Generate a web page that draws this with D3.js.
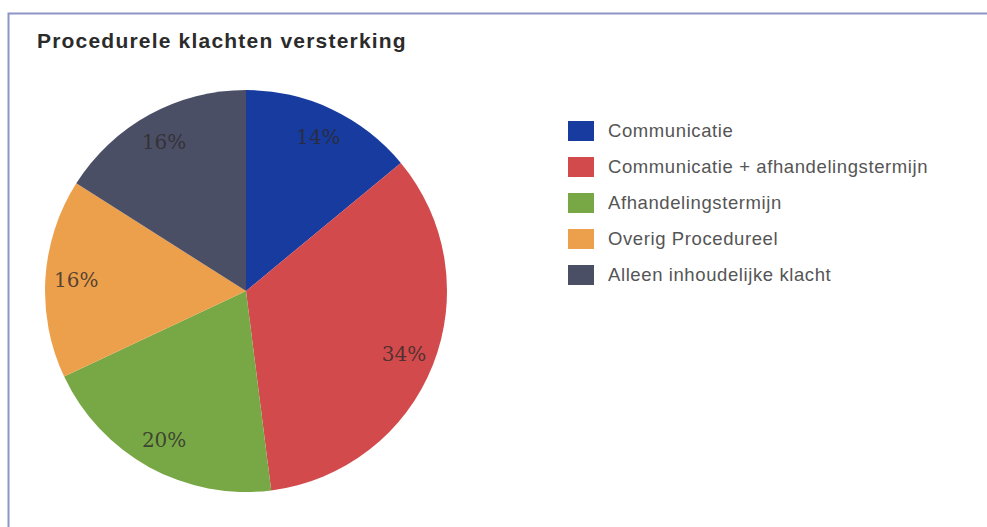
<!DOCTYPE html>
<html>
<head>
<meta charset="utf-8">
<script src="https://cdn.jsdelivr.net/npm/d3@7"></script>
<style>
  body { margin: 0; background: #fff; }
  #vis_container { width: 987px; height: 527px; }
</style>
</head>
<body>
<div id="vis_container"></div>
<script>
// data
var categories = ["Communicatie", "Communicatie + afhandelingstermijn", "Afhandelingstermijn", "Overig Procedureel", "Alleen inhoudelijke klacht"];
var shares = [14, 34, 20, 16, 16];
var colours = ["#173b9e", "#d24a4c", "#78a846", "#eda04c", "#4b4f66"];
var title = "Procedurele klachten versterking";

var width = 987, height = 527;
var cx = 246, cy = 291, radius = 201;

var svg = d3.select("#vis_container").append("svg")
	.attr("width", width)
	.attr("height", height);

// frame (only top + left visible in the scan)
svg.append("path")
	.attr("d", "M8.5," + height + " V13.5 H" + width)
	.attr("fill", "none")
	.attr("stroke", "#8c95c6")
	.attr("stroke-width", 2);

svg.append("text")
	.attr("x", 37)
	.attr("y", 48)
	.attr("font-family", "'Liberation Sans', Arial, sans-serif")
	.attr("font-weight", "bold")
	.attr("font-size", 21)
	.attr("letter-spacing", 1.2)
	.attr("fill", "#2b2b2b")
	.text(title);

var color = d3.scaleOrdinal().domain(categories).range(colours);

var pie = d3.pie()
	.sort(null)
	.value(function(d, i) { return shares[i]; });

var arc = d3.arc().innerRadius(0).outerRadius(radius);
var labelArc = d3.arc().innerRadius(170).outerRadius(170);

var g = svg.append("g")
	.attr("transform", "translate(" + cx + "," + cy + ")");

var arcs = pie(categories);

g.selectAll(".slice")
	.data(arcs)
	.enter()
	.append("path")
		.attr("class", "slice")
		.attr("d", arc)
		.attr("fill", function(d) { return color(d.data); });

g.selectAll(".pct")
	.data(arcs)
	.enter()
	.append("text")
		.attr("class", "pct")
		.attr("transform", function(d) { return "translate(" + labelArc.centroid(d) + ")"; })
		.attr("text-anchor", "middle")
		.attr("dy", "0.35em")
		.attr("font-family", "'DejaVu Serif', 'Liberation Serif', serif")
		.attr("font-size", 20)
		.attr("fill", "#2e2a2a")
		.attr("fill-opacity", 0.8)
		.text(function(d, i) { return shares[i] + "%"; });

// legend
var legend = svg.append("g")
	.attr("transform", "translate(568,131)");

var rows = legend.selectAll(".row")
	.data(categories)
	.enter()
	.append("g")
		.attr("class", "row")
		.attr("transform", function(d, i) { return "translate(0," + (i * 36) + ")"; });

rows.append("rect")
	.attr("x", 0)
	.attr("y", -10)
	.attr("width", 26)
	.attr("height", 20)
	.attr("fill", function(d) { return color(d); });

rows.append("text")
	.attr("x", 40)
	.attr("dy", "0.35em")
	.attr("font-family", "'Liberation Sans', Arial, sans-serif")
	.attr("font-size", 18.5)
	.attr("letter-spacing", 0.6)
	.attr("fill", "#555")
	.text(function(d) { return d; });
</script>
</body>
</html>
